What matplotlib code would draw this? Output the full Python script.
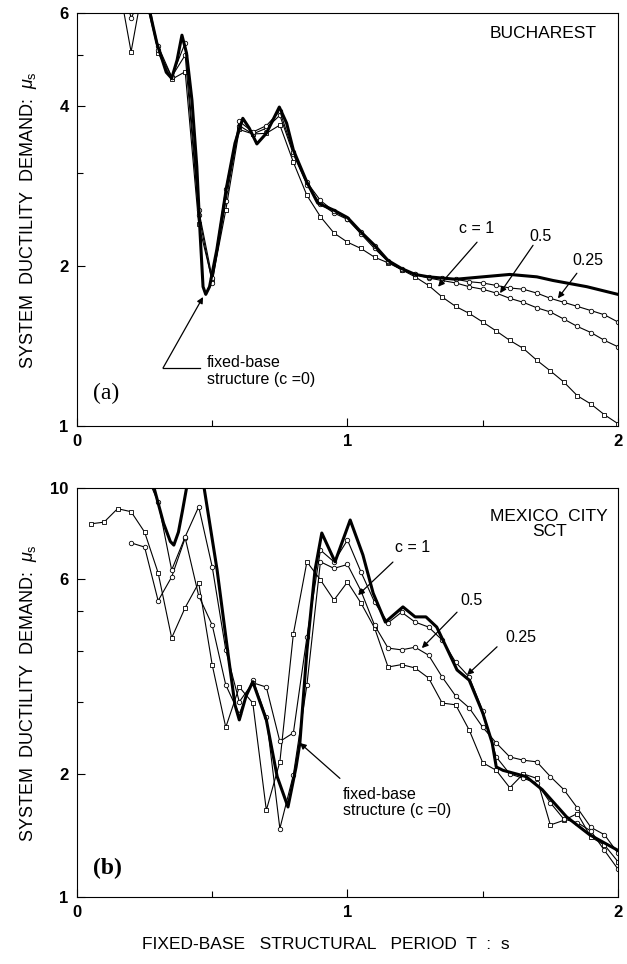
import numpy as np
import matplotlib
matplotlib.use("Agg")
import matplotlib.pyplot as plt
from matplotlib.ticker import FixedLocator, FixedFormatter, NullFormatter

plt.rcParams['font.family'] = ['Liberation Sans', 'DejaVu Sans']
plt.rcParams['mathtext.fontset'] = 'custom'
plt.rcParams['mathtext.rm'] = 'Liberation Sans'
plt.rcParams['mathtext.it'] = 'Liberation Sans:italic'

# ---- (a) Bucharest ----
# fixed-base structure, c = 0 (thick line)
T_a0 = [0.25, 0.27, 0.295, 0.33, 0.35, 0.37, 0.388, 0.405, 0.425, 0.443, 0.455,
        0.466, 0.476, 0.49, 0.517, 0.553, 0.584, 0.613, 0.637, 0.665, 0.70, 0.748,
        0.775, 0.80, 0.85, 0.89, 0.95, 1.00, 1.05, 1.10, 1.15, 1.20, 1.25, 1.30,
        1.35, 1.40, 1.50, 1.60, 1.70, 1.76, 1.885, 2.00]
mu_a0 = [7.0, 6.0, 5.27, 4.64, 4.52, 4.89, 5.45, 5.04, 4.11, 3.08, 2.31,
         1.83, 1.77, 1.83, 2.15, 2.82, 3.41, 3.80, 3.64, 3.40, 3.56, 3.99,
         3.72, 3.31, 2.88, 2.63, 2.55, 2.47, 2.32, 2.19, 2.05, 1.98, 1.93, 1.91,
         1.90, 1.89, 1.91, 1.93, 1.91, 1.88, 1.83, 1.77]

T_a = [0.15, 0.20, 0.25, 0.30, 0.35, 0.40, 0.45, 0.50, 0.55, 0.60, 0.65, 0.70,
       0.75, 0.80, 0.85, 0.90, 0.95, 1.00, 1.05, 1.10, 1.15, 1.20, 1.25, 1.30,
       1.35, 1.40, 1.45, 1.50, 1.55, 1.60, 1.65, 1.70, 1.75, 1.80, 1.85, 1.90,
       1.95, 2.00]
mu_a025 = [7.5, 5.87, 6.6, 5.20, 4.55, 5.27, 2.55, 1.90, 2.80, 3.75, 3.58, 3.68,
           3.92, 3.28, 2.88, 2.66, 2.54, 2.46, 2.32, 2.18, 2.05, 1.98, 1.93, 1.91,
           1.90, 1.89, 1.87, 1.86, 1.84, 1.82, 1.81, 1.78, 1.74, 1.71, 1.68, 1.65,
           1.62, 1.57]
mu_a05 = [7.5, 6.8, 6.5, 5.10, 4.55, 5.00, 2.50, 1.86, 2.65, 3.68, 3.55, 3.64,
          3.85, 3.25, 2.85, 2.62, 2.52, 2.45, 2.30, 2.16, 2.04, 1.97, 1.93, 1.90,
          1.88, 1.86, 1.83, 1.81, 1.78, 1.74, 1.71, 1.67, 1.64, 1.59, 1.54, 1.50,
          1.45, 1.41]
mu_a1 = [7.0, 5.07, 7.0, 5.05, 4.50, 4.65, 2.40, 1.88, 2.55, 3.62, 3.55, 3.56,
         3.69, 3.14, 2.72, 2.48, 2.31, 2.22, 2.16, 2.08, 2.03, 1.97, 1.91, 1.84,
         1.75, 1.68, 1.63, 1.57, 1.51, 1.45, 1.40, 1.33, 1.27, 1.21, 1.14, 1.10,
         1.05, 1.01]

# ---- (b) Mexico City SCT ----
T_b0 = [0.26, 0.285, 0.32, 0.345, 0.358, 0.375, 0.39, 0.405, 0.43, 0.455, 0.47,
        0.518, 0.56, 0.584, 0.60, 0.625, 0.65, 0.70, 0.74, 0.78, 0.81, 0.824,
        0.85, 0.88, 0.905, 0.954, 1.01, 1.057, 1.095, 1.14, 1.205, 1.25, 1.29,
        1.33, 1.37, 1.405, 1.45, 1.50, 1.535, 1.55, 1.575, 1.66, 1.72, 1.81,
        1.895, 2.0]
mu_b0 = [12, 10, 8.2, 7.4, 7.25, 7.8, 8.8, 10, 12, 11, 10,
         6.3, 3.86, 2.95, 2.71, 3.1, 3.36, 2.71, 1.97, 1.66, 2.08, 2.38,
         4.0, 6.3, 7.76, 6.6, 8.35, 6.86, 5.53, 4.70, 5.12, 4.84, 4.84,
         4.57, 4.02, 3.59, 3.39, 2.82, 2.38, 2.08, 2.04, 1.97, 1.83, 1.57,
         1.42, 1.30]

T_b1 = [0.05, 0.10, 0.15, 0.20, 0.25, 0.30, 0.35, 0.40, 0.45, 0.50, 0.55, 0.60,
        0.65, 0.70, 0.75, 0.80, 0.85, 0.90, 0.95, 1.00, 1.05, 1.10, 1.15, 1.20,
        1.25, 1.30, 1.35, 1.40, 1.45, 1.50, 1.55, 1.60, 1.65, 1.70, 1.75, 1.80,
        1.85, 1.90, 1.95, 2.00]
mu_b1 = [8.17, 8.25, 8.90, 8.75, 7.80, 6.20, 4.30, 5.10, 5.86, 3.69, 2.60, 3.26,
         2.98, 1.63, 2.14, 4.40, 6.60, 5.96, 5.32, 5.89, 5.23, 4.55, 3.65, 3.70,
         3.63, 3.43, 2.98, 2.95, 2.56, 2.13, 2.04, 1.85, 2.00, 1.95, 1.50, 1.54,
         1.60, 1.40, 1.34, 1.22]

T_b05 = [0.20, 0.25, 0.30, 0.35, 0.40, 0.45, 0.50, 0.55, 0.60, 0.65, 0.70, 0.75,
         0.80, 0.85, 0.90, 0.95, 1.00, 1.05, 1.10, 1.15, 1.20, 1.25, 1.30, 1.35,
         1.40, 1.45, 1.50, 1.55, 1.60, 1.65, 1.70, 1.75, 1.80, 1.85, 1.90, 1.95,
         2.00]
mu_b05 = [7.34, 7.17, 5.30, 6.06, 7.55, 5.45, 4.62, 3.30, 2.80, 3.40, 2.75, 1.47,
          1.99, 3.30, 6.60, 6.36, 6.50, 5.60, 4.62, 4.06, 4.02, 4.08, 3.90, 3.45,
          3.10, 2.90, 2.60, 2.38, 2.20, 2.16, 2.14, 1.97, 1.83, 1.65, 1.48, 1.42,
          1.28]

T_b025 = [0.25, 0.30, 0.35, 0.40, 0.45, 0.50, 0.55, 0.60, 0.65, 0.70, 0.75, 0.80,
          0.85, 0.90, 0.95, 1.00, 1.05, 1.10, 1.15, 1.20, 1.25, 1.30, 1.35, 1.40,
          1.45, 1.50, 1.55, 1.60, 1.65, 1.70, 1.75, 1.80, 1.85, 1.90, 1.95, 2.00]
mu_b025 = [11.0, 9.24, 6.30, 7.60, 9.00, 6.41, 4.02, 3.00, 3.34, 3.26, 2.40, 2.52,
           4.32, 7.05, 6.60, 7.46, 6.23, 5.26, 4.68, 4.97, 4.70, 4.57, 4.25, 3.75,
           3.45, 2.85, 2.20, 2.00, 1.95, 1.90, 1.70, 1.55, 1.52, 1.45, 1.30, 1.17]

thin = dict(color='k', lw=0.8, ms=3.2, mfc='white', mec='k', mew=0.6)

fig = plt.figure(figsize=(6.27, 9.64), dpi=100)
ax1 = fig.add_axes([0.1228, 0.5581, 0.8628, 0.4284])
ax2 = fig.add_axes([0.1228, 0.0695, 0.8628, 0.4243])

ax1.plot(T_a, mu_a1, marker='s', **thin)
ax1.plot(T_a, mu_a05, marker='o', **thin)
ax1.plot(T_a, mu_a025, marker='o', **thin)
ax1.plot(T_a0, mu_a0, color='k', lw=2.2)

ax2.plot(T_b1, mu_b1, marker='s', **thin)
ax2.plot(T_b05, mu_b05, marker='o', **thin)
ax2.plot(T_b025, mu_b025, marker='o', **thin)
ax2.plot(T_b0, mu_b0, color='k', lw=2.2)

for ax, top, major, minor in [(ax1, 6, [1, 2, 4, 6], [3, 5]),
                              (ax2, 10, [1, 2, 6, 10], [3, 4, 5])]:
    ax.set_yscale('log')
    ax.set_xlim(0, 2)
    ax.set_ylim(1, top)
    ax.yaxis.set_major_locator(FixedLocator(major))
    ax.yaxis.set_minor_locator(FixedLocator(minor))
    ax.yaxis.set_major_formatter(FixedFormatter([str(v) for v in major]))
    ax.yaxis.set_minor_formatter(NullFormatter())
    ax.xaxis.set_major_locator(FixedLocator([0, 1, 2]))
    ax.xaxis.set_minor_locator(FixedLocator([0.5, 1.5]))
    ax.set_xticklabels(['0', '1', '2'])
    ax.tick_params(which='both', direction='in', top=False, right=False,
                   width=0.8, labelsize=12)
    ax.tick_params(which='major', length=6)
    ax.tick_params(which='minor', length=4)
    ax.tick_params(axis='x', pad=6)
    ax.tick_params(axis='y', pad=6)
    for lab in ax.get_xticklabels() + ax.get_yticklabels():
        lab.set_fontweight('bold')
    for sp in ax.spines.values():
        sp.set_linewidth(0.8)

arrow = dict(arrowstyle='-|>', color='k', lw=0.9, mutation_scale=9,
             shrinkA=0, shrinkB=0)

# panel (a) labels
ax1.text(1.92, 5.48, 'BUCHAREST', ha='right', va='center', fontsize=12.5)
ax1.text(0.03, 0.08, '(a)', transform=ax1.transAxes, ha='left', va='center',
         fontsize=17, family='Liberation Serif')
ax1.text(0.48, 1.27, 'fixed-base\nstructure (c =0)', ha='left', va='center',
         fontsize=11.5, linespacing=1.1)
ax1.plot([0.318, 0.455], [1.286, 1.286], color='k', lw=0.9)
ax1.annotate('', xy=(0.466, 1.75), xytext=(0.318, 1.286), arrowprops=arrow)
ax1.text(1.479, 2.36, 'c = 1', ha='center', va='center', fontsize=11.5)
ax1.annotate('', xy=(1.335, 1.83), xytext=(1.479, 2.22), arrowprops=arrow)
ax1.text(1.715, 2.28, '0.5', ha='center', va='center', fontsize=11.5)
ax1.annotate('', xy=(1.564, 1.78), xytext=(1.686, 2.19), arrowprops=arrow)
ax1.text(1.889, 2.05, '0.25', ha='center', va='center', fontsize=11.5)
ax1.annotate('', xy=(1.778, 1.74), xytext=(1.848, 1.94), arrowprops=arrow)

# panel (b) labels
ax2.text(0.982, 0.912, 'MEXICO  CITY\nSCT', transform=ax2.transAxes, ha='right',
         va='center', multialignment='center', fontsize=12.5, linespacing=1.05)
ax2.text(0.03, 0.07, '(b)', transform=ax2.transAxes, ha='left', va='center',
         fontsize=17, fontweight='bold', family='Liberation Serif')
ax2.text(0.983, 1.70, 'fixed-base\nstructure (c =0)', ha='left', va='center',
         fontsize=11.5, linespacing=1.1)
ax2.annotate('', xy=(0.824, 2.38), xytext=(0.972, 1.95), arrowprops=arrow)
ax2.text(1.242, 7.17, 'c = 1', ha='center', va='center', fontsize=11.5)
ax2.annotate('', xy=(1.039, 5.47), xytext=(1.168, 6.59), arrowprops=arrow)
ax2.text(1.46, 5.32, '0.5', ha='center', va='center', fontsize=11.5)
ax2.annotate('', xy=(1.275, 4.06), xytext=(1.405, 4.97), arrowprops=arrow)
ax2.text(1.641, 4.32, '0.25', ha='center', va='center', fontsize=11.5)
ax2.annotate('', xy=(1.442, 3.49), xytext=(1.553, 4.09), arrowprops=arrow)

ylab = r'SYSTEM  DUCTILITY  DEMAND:  $\mu_{\mathrm{s}}$'
fig.text(0.046, 0.772, ylab, rotation=90, ha='center', va='center', fontsize=13)
fig.text(0.046, 0.281, ylab, rotation=90, ha='center', va='center', fontsize=13)
fig.text(0.52, 0.02, 'FIXED-BASE   STRUCTURAL   PERIOD  T  :  s',
         ha='center', va='center', fontsize=12.5)

fig.savefig("out.png", dpi=100)
